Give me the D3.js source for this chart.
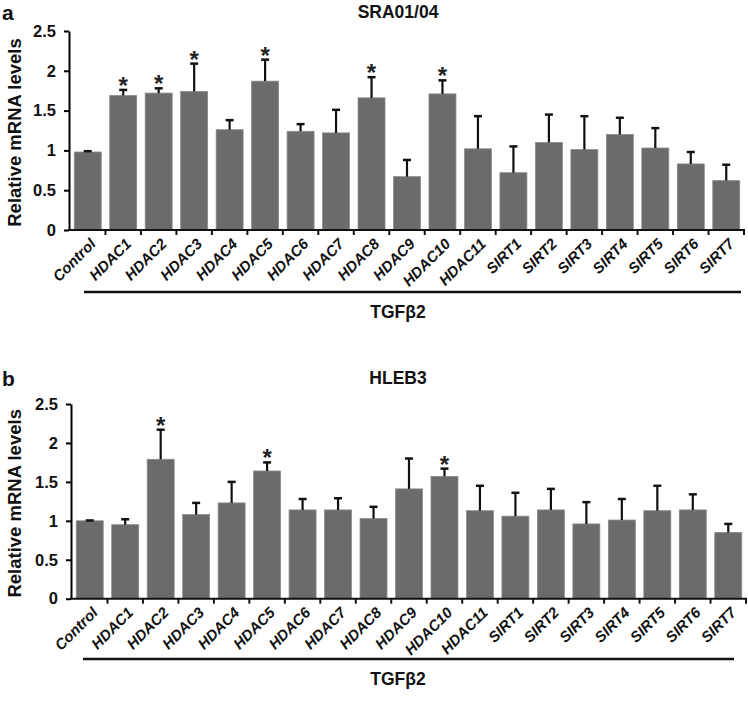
<!DOCTYPE html>
<head>
  <meta charset="utf-8">
  <script src="https://d3js.org/d3.v7.min.js"></script>
  <style>
    body { margin:0; background:#fff; }
    text { font-family: "Liberation Sans", Arial, sans-serif; font-weight: bold; }
  </style>
</head>
<body>
<script>
  // categories shared by both panels
  var genes = ["Control", "HDAC1", "HDAC2", "HDAC3", "HDAC4", "HDAC5", "HDAC6", "HDAC7",
    "HDAC8", "HDAC9", "HDAC10", "HDAC11", "SIRT1", "SIRT2", "SIRT3", "SIRT4", "SIRT5", "SIRT6", "SIRT7"];
  var yTicks = [0, 0.5, 1, 1.5, 2, 2.5];

  // panel a - SRA01/04
  var sraMean = [0.98, 1.69, 1.72, 1.74, 1.26, 1.87, 1.24, 1.22, 1.66, 0.67, 1.71, 1.02, 0.72, 1.10, 1.01, 1.20, 1.03, 0.83, 0.62];
  var sraSd   = [0.01, 0.07, 0.06, 0.35, 0.12, 0.27, 0.09, 0.29, 0.26, 0.21, 0.17, 0.41, 0.33, 0.35, 0.42, 0.21, 0.25, 0.15, 0.20];
  var sraSig  = ["HDAC1", "HDAC2", "HDAC3", "HDAC5", "HDAC8", "HDAC10"];

  // panel b - HLEB3
  var hlebMean = [1.00, 0.95, 1.79, 1.08, 1.23, 1.64, 1.14, 1.14, 1.03, 1.41, 1.57, 1.13, 1.06, 1.14, 0.96, 1.01, 1.13, 1.14, 0.85];
  var hlebSd   = [0.005, 0.07, 0.38, 0.15, 0.27, 0.11, 0.14, 0.15, 0.15, 0.39, 0.10, 0.32, 0.30, 0.27, 0.28, 0.27, 0.32, 0.20, 0.11];
  var hlebSig  = ["HDAC2", "HDAC5", "HDAC10"];

  var svg = d3.select("body").append("svg")
    .attr("width", 748)
    .attr("height", 719);

  function panel(opt) {
    var g = svg.append("g");
    var x = d3.scaleBand().domain(genes).range([opt.left, opt.right]).paddingInner(0.24).paddingOuter(0.12);
    var y = d3.scaleLinear().domain([0, 2.5]).range([opt.bottom, opt.top]);
    var rows = genes.map(function(d, i) {
      return {name: d, mean: opt.mean[i], sd: opt.sd[i], sig: opt.sig.indexOf(d) >= 0};
    });

    // bars
    g.selectAll("rect.bar").data(rows).enter().append("rect")
      .attr("class", "bar")
      .attr("x", function(d) { return x(d.name); })
      .attr("width", x.bandwidth())
      .attr("y", function(d) { return y(d.mean); })
      .attr("height", function(d) { return opt.bottom - y(d.mean); })
      .attr("fill", "#6b6b6b")
      .attr("stroke", "#8a8a8a")
      .attr("stroke-width", 0.8);

    // error bars (upper only)
    var cx = function(d) { return x(d.name) + x.bandwidth() / 2; };
    g.selectAll("line.err").data(rows).enter().append("line")
      .attr("x1", cx).attr("x2", cx)
      .attr("y1", function(d) { return y(d.mean); })
      .attr("y2", function(d) { return y(d.mean + d.sd); })
      .attr("stroke", "#111").attr("stroke-width", 2.2);
    g.selectAll("line.cap").data(rows).enter().append("line")
      .attr("x1", function(d) { return cx(d) - 4; })
      .attr("x2", function(d) { return cx(d) + 4; })
      .attr("y1", function(d) { return y(d.mean + d.sd); })
      .attr("y2", function(d) { return y(d.mean + d.sd); })
      .attr("stroke", "#111").attr("stroke-width", 2.5);

    // asterisks
    g.selectAll("text.star").data(rows.filter(function(d) { return d.sig; })).enter().append("text")
      .attr("x", cx)
      .attr("y", function(d) { return y(d.mean + d.sd) + 4; })
      .attr("text-anchor", "middle")
      .attr("font-size", 24)
      .attr("fill", "#222")
      .text("*");

    // y axis
    var ya = g.append("g")
      .attr("transform", "translate(" + (opt.left - 1) + ",0)")
      .call(d3.axisLeft(y).tickValues(yTicks).tickFormat(d3.format("")).tickSize(5).tickSizeOuter(0).tickPadding(8));
    ya.select(".domain").attr("stroke-width", 2);
    ya.selectAll(".tick line").attr("stroke-width", 2);
    ya.selectAll("text").attr("font-size", 16.5).attr("font-family", "'Liberation Sans', Arial, sans-serif")
      .attr("font-weight", "bold").attr("fill", "#111");

    // x axis with ticks at band boundaries
    var step = x.step();
    var bounds = genes.map(function(d) { return x(d) - step * 0.12; }).concat([opt.right]);
    g.append("line")
      .attr("x1", opt.left - 2).attr("x2", opt.right + 1)
      .attr("y1", opt.bottom).attr("y2", opt.bottom)
      .attr("stroke", "#111").attr("stroke-width", 2);
    g.selectAll("line.xt").data(bounds.slice(1)).enter().append("line")
      .attr("x1", function(d) { return d; }).attr("x2", function(d) { return d; })
      .attr("y1", opt.bottom).attr("y2", opt.bottom + 5)
      .attr("stroke", "#111").attr("stroke-width", 2);

    // category labels
    g.selectAll("text.xl").data(genes).enter().append("text")
      .attr("transform", function(d) {
        return "translate(" + (x(d) + x.bandwidth() / 2 + 2) + "," + (opt.bottom + 8) + ") rotate(-45)";
      })
      .attr("text-anchor", "end")
      .attr("dy", "0.65em")
      .attr("font-size", 15)
      .attr("font-style", "italic")
      .attr("fill", "#111")
      .text(function(d) { return d; });

    // treatment bracket
    g.append("line")
      .attr("x1", opt.lineX1).attr("x2", opt.lineX2)
      .attr("y1", opt.lineY).attr("y2", opt.lineY)
      .attr("stroke", "#111").attr("stroke-width", 2.5);
    g.append("text")
      .attr("x", 398).attr("y", opt.lineY + 26)
      .attr("text-anchor", "middle")
      .attr("font-size", 17.5)
      .attr("fill", "#111")
      .text("TGFβ2");

    // titles
    g.append("text")
      .attr("x", 398).attr("y", opt.titleY)
      .attr("text-anchor", "middle")
      .attr("font-size", 17.5)
      .attr("fill", "#111")
      .text(opt.title);
    g.append("text")
      .attr("x", 2).attr("y", opt.titleY + 2)
      .attr("font-size", 21)
      .attr("fill", "#111")
      .text(opt.letter);

    // y label
    g.append("text")
      .attr("transform", "translate(21," + ((opt.top + opt.bottom) / 2 + 2) + ") rotate(-90)")
      .attr("text-anchor", "middle")
      .attr("font-size", 18.5)
      .attr("fill", "#111")
      .text("Relative mRNA levels");
  }

  panel({letter: "a", title: "SRA01/04", mean: sraMean, sd: sraSd, sig: sraSig,
    left: 70, right: 744, top: 31, bottom: 230, titleY: 18,
    lineX1: 84, lineX2: 741, lineY: 292});

  panel({letter: "b", title: "HLEB3", mean: hlebMean, sd: hlebSd, sig: hlebSig,
    left: 72, right: 746, top: 404, bottom: 598.7, titleY: 384,
    lineX1: 83, lineX2: 734, lineY: 659});
</script>
</body>
